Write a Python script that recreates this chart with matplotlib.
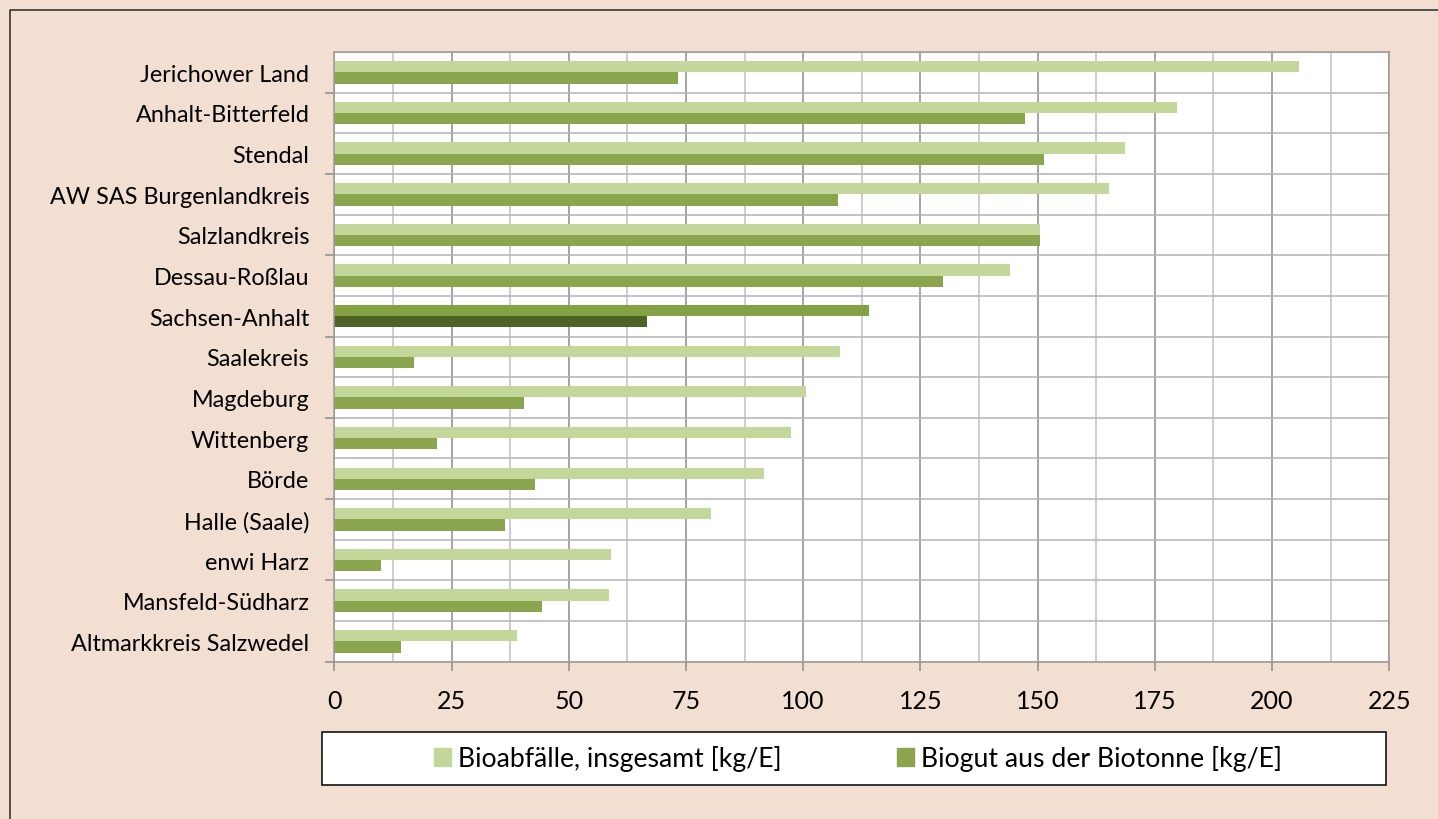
import numpy as np
import matplotlib.pyplot as plt
from matplotlib.patches import Rectangle, Patch
from matplotlib.lines import Line2D

# Data (top to bottom as in the chart)
kreise = [
    "Jerichower Land", "Anhalt-Bitterfeld", "Stendal", "AW SAS Burgenlandkreis",
    "Salzlandkreis", "Dessau-Roßlau", "Sachsen-Anhalt", "Saalekreis",
    "Magdeburg", "Wittenberg", "Börde", "Halle (Saale)", "enwi Harz",
    "Mansfeld-Südharz", "Altmarkkreis Salzwedel",
]
bioabfall = [205.7, 179.7, 168.7, 165.3, 150.5, 144.1, 114.0, 107.9,
             100.6, 97.3, 91.7, 80.4, 59.0, 58.6, 39.0]
biogut = [73.2, 147.3, 151.4, 107.5, 150.5, 129.8, 66.7, 17.1,
          40.5, 22.0, 42.9, 36.5, 10.0, 44.4, 14.2]
highlight = "Sachsen-Anhalt"
ticks_x = np.arange(0, 226, 25)

# Colours
C_LIGHT, C_DARK = "#c4d79b", "#8aa54e"
C_LIGHT_HL, C_DARK_HL = "#84a243", "#4f6228"
BG = "#f2dfd1"

W, H = 1438, 820
fig = plt.figure(figsize=(W / 100, H / 100), dpi=100, facecolor=BG)
plt.rcParams["font.family"] = ["Lato", "DejaVu Sans"]

# outer frame (only top/left visible in the crop)
fx, fy = 9.5 / W, 1 - 11 / H
fig.add_artist(Line2D([fx, fx, 1.0], [0.0, fy, fy], transform=fig.transFigure,
                      color="#262626", lw=1.1))

ax = fig.add_axes([334.3 / W, 1 - 662.7 / H, (1389.3 - 334.3) / W, (662.7 - 53) / H])
ax.set_facecolor("white")

y = np.arange(len(kreise))
bh = 0.277
c1 = [C_LIGHT_HL if k == highlight else C_LIGHT for k in kreise]
c2 = [C_DARK_HL if k == highlight else C_DARK for k in kreise]
ax.barh(y - bh / 2, bioabfall, height=bh, color=c1, zorder=3)
ax.barh(y + bh / 2, biogut, height=bh, color=c2, zorder=3)

ax.set_xlim(0, 225)
ax.set_ylim(len(kreise) - 0.5, -0.5)

# x axis: major every 25, minor every 12.5
ax.set_xticks(ticks_x)
ax.set_xticks(np.arange(12.5, 225, 25), minor=True)
ax.grid(which="major", axis="x", color="#8c8c8c", lw=1.1, zorder=1)
ax.grid(which="minor", axis="x", color="#c0c0c0", lw=1.1, zorder=1)
ax.tick_params(axis="x", which="major", length=6.5, width=1.1, color="#8c8c8c",
               labelsize=18, pad=13)
ax.tick_params(axis="x", which="minor", length=0)

# y axis: boundaries as major (grid), labels on minor ticks at centres
bounds = np.arange(len(kreise) + 1) - 0.5
ax.set_yticks(bounds, [""] * len(bounds))
ax.set_yticks(y, kreise, minor=True)
ax.grid(which="major", axis="y", color="#b3b3b3", lw=1.1, zorder=1)
ax.tick_params(axis="y", which="major", length=6.5, width=1.1, color="#8c8c8c")
ax.tick_params(axis="y", which="minor", length=0, labelsize=16.8, pad=18)
for i, t in enumerate(ax.yaxis.get_major_ticks()):
    if (len(bounds) - 1 - i) % 2 == 1:
        t.tick1line.set_visible(False)

for s in ax.spines.values():
    s.set_color("#999999")
    s.set_linewidth(1.1)
    s.set_zorder(4)

# legend box
fig.patches.append(Rectangle((322 / W, 1 - 786 / H), (1386 - 322) / W, 53 / H,
                             transform=fig.transFigure, facecolor="white",
                             edgecolor="black", lw=1.1))
handles = [Patch(color=C_LIGHT), Patch(color=C_DARK)]
labels = ["Bioabfälle, insgesamt [kg/E]", "Biogut aus der Biotonne [kg/E]"]
fig.legend(handles, labels, loc="center", bbox_to_anchor=(858 / W, 1 - 759.5 / H),
           ncol=2, frameon=False, fontsize=19.2, handlelength=0.64, handleheight=0.64,
           handletextpad=0.28, columnspacing=4.3)

fig.savefig("out.png", dpi=100, facecolor=BG)
